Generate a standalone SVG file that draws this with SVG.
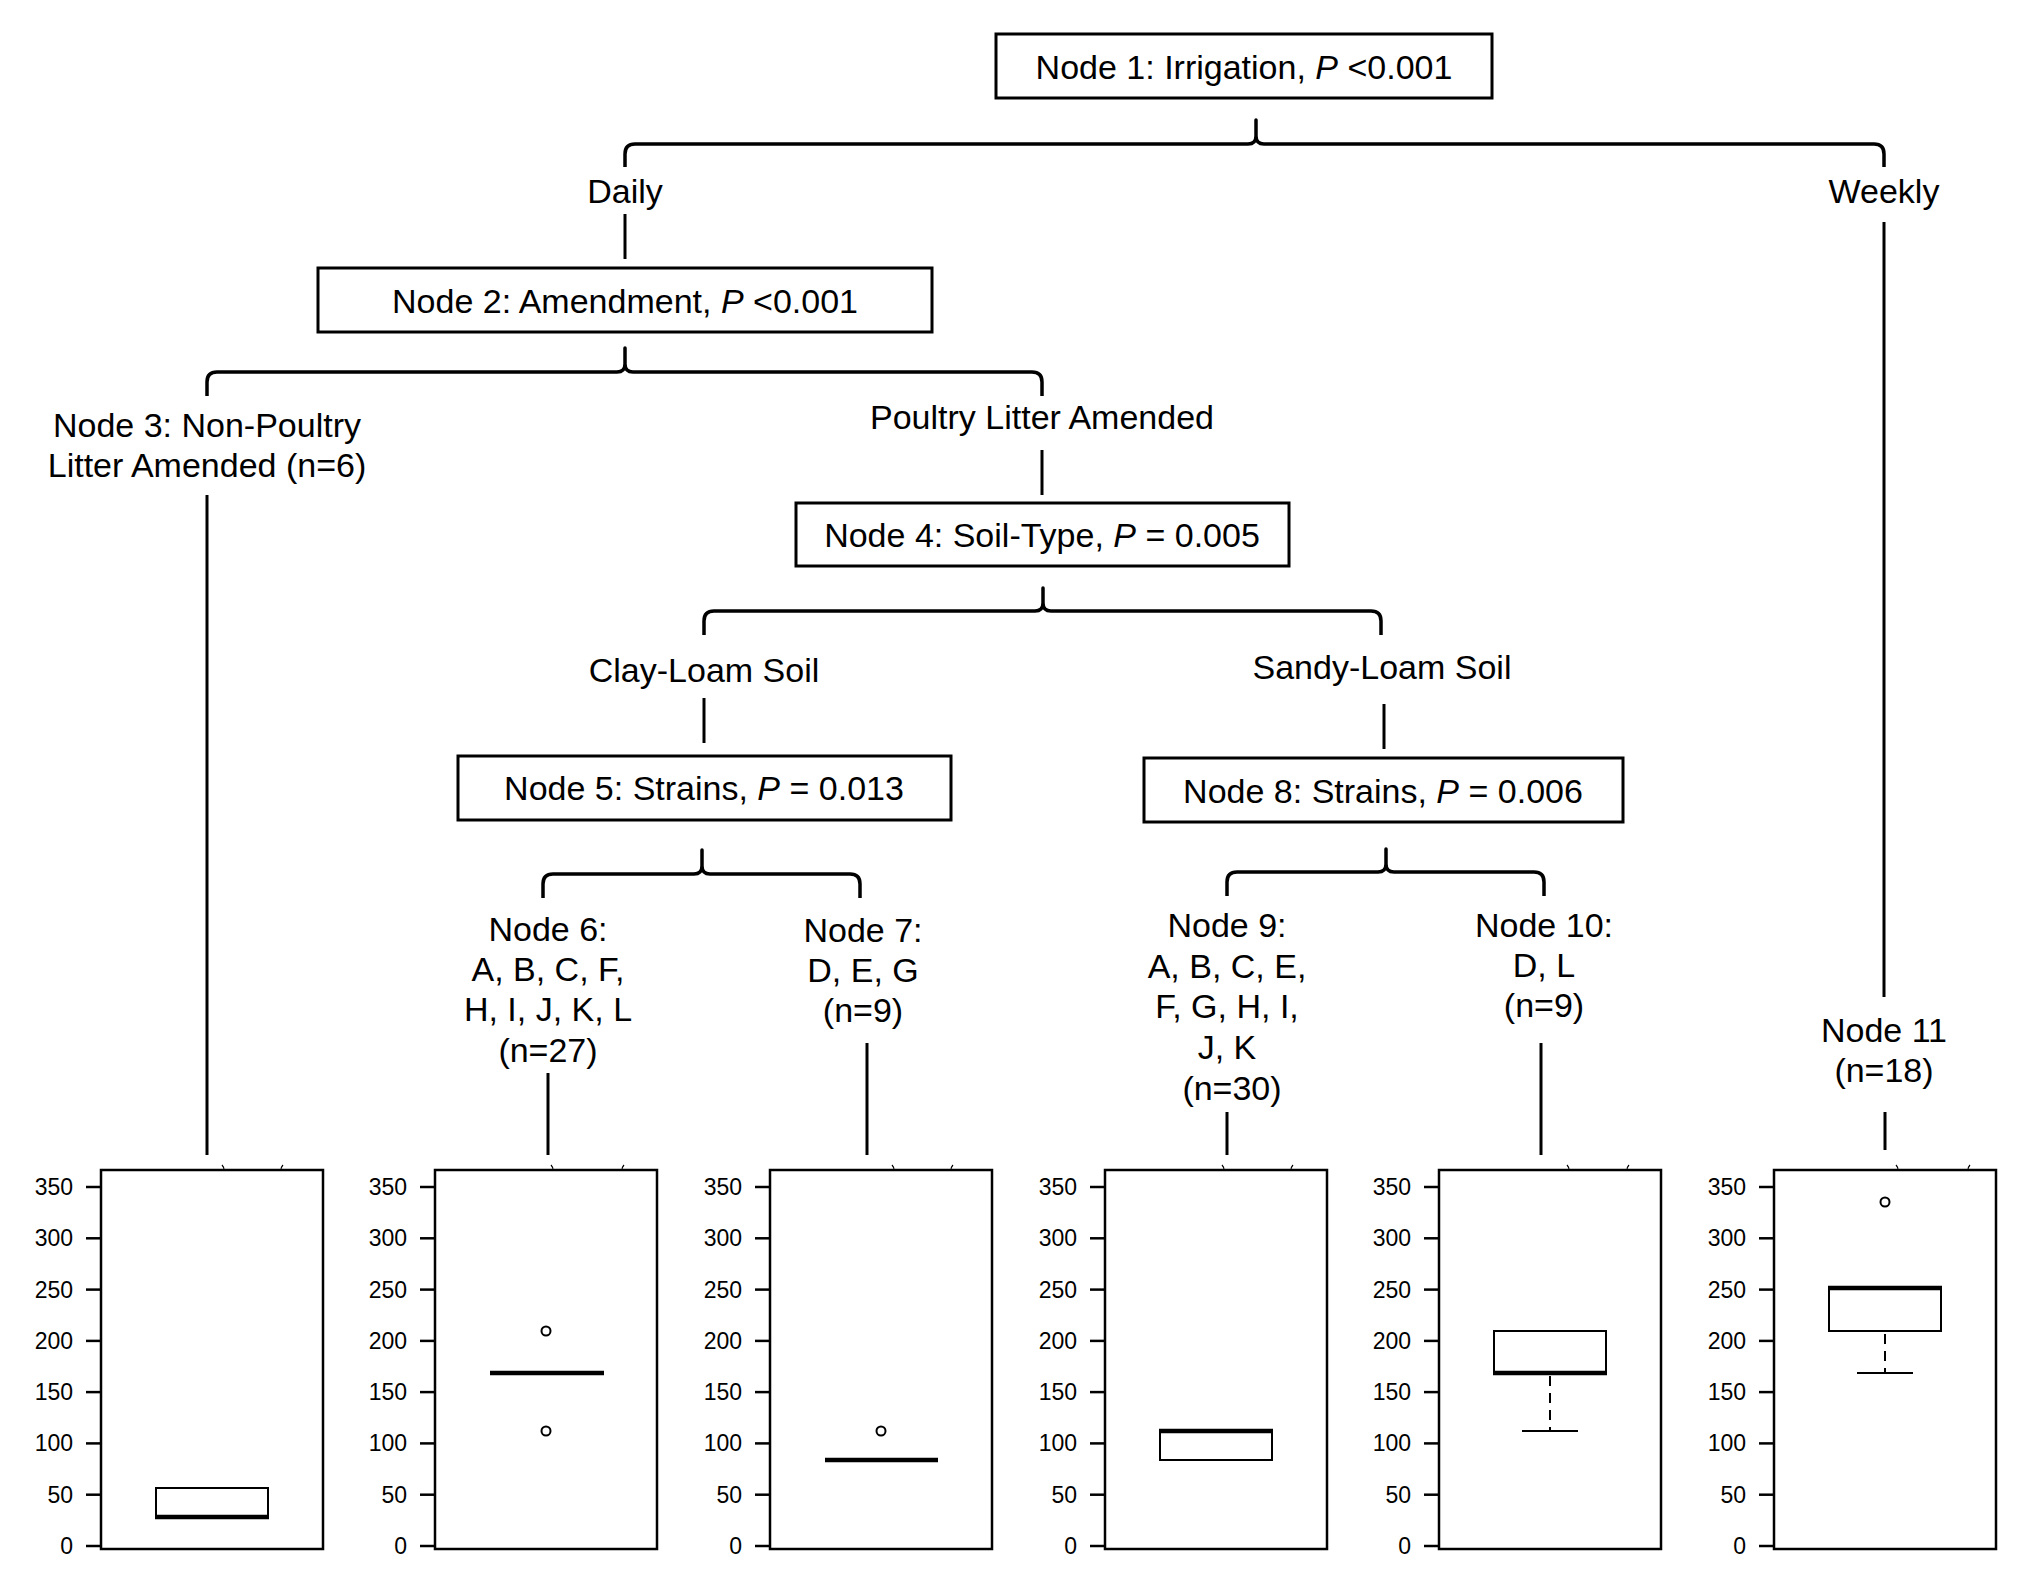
<svg xmlns="http://www.w3.org/2000/svg" width="2032" height="1589" viewBox="0 0 2032 1589">
<style>
text{font-family:"Liberation Sans",Arial,sans-serif;fill:#000}
.t{font-size:34px;text-anchor:middle}
.ax{font-size:23px;text-anchor:end}
.box{fill:#fff;stroke:#000;stroke-width:3}
.br{fill:none;stroke:#000;stroke-width:3.5;stroke-linejoin:round}
.ln{stroke:#000;stroke-width:3;fill:none}
.fr{fill:none;stroke:#000;stroke-width:2.5}
.tk{stroke:#000;stroke-width:2.5}
.bx{fill:none;stroke:#000;stroke-width:2}
.md{stroke:#000;stroke-width:4.5}
.wh{stroke:#000;stroke-width:2;stroke-dasharray:10,7}
.cap{stroke:#000;stroke-width:2}
.out{fill:none;stroke:#000;stroke-width:2}
.mk{fill:none;stroke:#000;stroke-width:1.2}
</style>
<rect width="2032" height="1589" fill="#fff"/>

<g id="connectors">
<path class="br" d="M625,167 L625,154 Q625,144 635,144 L1248,144 Q1256,144 1256,136 L1256,120 L1256,136 Q1256,144 1264,144 L1874,144 Q1884,144 1884,154 L1884,167"/>
<path class="br" d="M207,396 L207,382 Q207,372 217,372 L617,372 Q625,372 625,364 L625,348 L625,364 Q625,372 633,372 L1032,372 Q1042,372 1042,382 L1042,396"/>
<path class="br" d="M704,635 L704,621 Q704,611 714,611 L1035,611 Q1043,611 1043,603 L1043,588 L1043,603 Q1043,611 1051,611 L1371,611 Q1381,611 1381,621 L1381,635"/>
<path class="br" d="M543,898 L543,884 Q543,874 553,874 L694,874 Q702,874 702,866 L702,850 L702,866 Q702,874 710,874 L850,874 Q860,874 860,884 L860,898"/>
<path class="br" d="M1227,896 L1227,882 Q1227,872 1237,872 L1378,872 Q1386,872 1386,864 L1386,849 L1386,864 Q1386,872 1394,872 L1534,872 Q1544,872 1544,882 L1544,896"/>
<line class="ln" x1="625" y1="214" x2="625" y2="259"/>
<line class="ln" x1="1884" y1="222" x2="1884" y2="997"/>
<line class="ln" x1="1042" y1="450" x2="1042" y2="495"/>
<line class="ln" x1="207" y1="495" x2="207" y2="1155"/>
<line class="ln" x1="704" y1="698" x2="704" y2="743"/>
<line class="ln" x1="1384" y1="704" x2="1384" y2="749"/>
<line class="ln" x1="548" y1="1073" x2="548" y2="1155"/>
<line class="ln" x1="867" y1="1043" x2="867" y2="1155"/>
<line class="ln" x1="1227" y1="1112" x2="1227" y2="1155"/>
<line class="ln" x1="1541" y1="1043" x2="1541" y2="1155"/>
<line class="ln" x1="1885" y1="1112" x2="1885" y2="1150"/>
</g>

<g id="node1"><rect class="box" x="996" y="34" width="496" height="64"/><text class="t" x="1244" y="79">Node 1: Irrigation, <tspan font-style="italic">P</tspan> &lt;0.001</text></g>
<g id="label-daily"><text class="t" x="625" y="203">Daily</text></g>
<g id="label-weekly"><text class="t" x="1884" y="203">Weekly</text></g>
<g id="node2"><rect class="box" x="318" y="268" width="614" height="64"/><text class="t" x="625" y="313">Node 2: Amendment, <tspan font-style="italic">P</tspan> &lt;0.001</text></g>
<g id="node3"><text class="t" x="207" y="437">Node 3: Non-Poultry</text><text class="t" x="207" y="477">Litter Amended (n=6)</text></g>
<g id="label-poultry"><text class="t" x="1042" y="429">Poultry Litter Amended</text></g>
<g id="node4"><rect class="box" x="796" y="503" width="493" height="63"/><text class="t" x="1042" y="547">Node 4: Soil-Type, <tspan font-style="italic">P</tspan> = 0.005</text></g>
<g id="label-clay"><text class="t" x="704" y="682">Clay-Loam Soil</text></g>
<g id="label-sandy"><text class="t" x="1382" y="679">Sandy-Loam Soil</text></g>
<g id="node5"><rect class="box" x="458" y="756" width="493" height="64"/><text class="t" x="704" y="800">Node 5: Strains, <tspan font-style="italic">P</tspan> = 0.013</text></g>
<g id="node8"><rect class="box" x="1144" y="758" width="479" height="64"/><text class="t" x="1383" y="803">Node 8: Strains, <tspan font-style="italic">P</tspan> = 0.006</text></g>
<g id="node6"><text class="t" x="548" y="941">Node 6:</text><text class="t" x="548" y="981">A, B, C, F,</text><text class="t" x="548" y="1021">H, I, J, K, L</text><text class="t" x="548" y="1062">(n=27)</text></g>
<g id="node7"><text class="t" x="863" y="942">Node 7:</text><text class="t" x="863" y="982">D, E, G</text><text class="t" x="863" y="1022">(n=9)</text></g>
<g id="node9"><text class="t" x="1227" y="937">Node 9:</text><text class="t" x="1227" y="978">A, B, C, E,</text><text class="t" x="1227" y="1018">F, G, H, I,</text><text class="t" x="1227" y="1059">J, K</text><text class="t" x="1232" y="1100">(n=30)</text></g>
<g id="node10"><text class="t" x="1544" y="937">Node 10:</text><text class="t" x="1544" y="977">D, L</text><text class="t" x="1544" y="1017">(n=9)</text></g>
<g id="node11"><text class="t" x="1884" y="1042">Node 11</text><text class="t" x="1884" y="1082">(n=18)</text></g>

<defs>
<g id="axis">
<rect class="fr" x="0" y="1170" width="222" height="379"/>
<line class="tk" x1="-15" y1="1546" x2="0" y2="1546"/>
<line class="tk" x1="-15" y1="1494.7" x2="0" y2="1494.7"/>
<line class="tk" x1="-15" y1="1443.4" x2="0" y2="1443.4"/>
<line class="tk" x1="-15" y1="1392.1" x2="0" y2="1392.1"/>
<line class="tk" x1="-15" y1="1340.9" x2="0" y2="1340.9"/>
<line class="tk" x1="-15" y1="1289.6" x2="0" y2="1289.6"/>
<line class="tk" x1="-15" y1="1238.3" x2="0" y2="1238.3"/>
<line class="tk" x1="-15" y1="1187" x2="0" y2="1187"/>
<text class="ax" x="-28" y="1554">0</text>
<text class="ax" x="-28" y="1502.7">50</text>
<text class="ax" x="-28" y="1451.4">100</text>
<text class="ax" x="-28" y="1400.1">150</text>
<text class="ax" x="-28" y="1348.9">200</text>
<text class="ax" x="-28" y="1297.6">250</text>
<text class="ax" x="-28" y="1246.3">300</text>
<text class="ax" x="-28" y="1195">350</text>
</g>
</defs>

<g id="plot1">
<use href="#axis" x="101"/>
<path class="mk" d="M222,1165 Q224,1167 224,1170 M283,1165 Q281,1167 281,1170"/>
<rect class="bx" x="156" y="1488" width="112" height="29"/>
<line class="md" x1="155" y1="1517" x2="269" y2="1517"/>
</g>
<g id="plot2">
<use href="#axis" x="435"/>
<path class="mk" d="M551,1165 Q553,1167 553,1170 M624,1165 Q622,1167 622,1170"/>
<line class="md" x1="490" y1="1373" x2="604" y2="1373"/>
<circle class="out" cx="546" cy="1331" r="4.5"/>
<circle class="out" cx="546" cy="1431" r="4.5"/>
</g>
<g id="plot3">
<use href="#axis" x="770"/>
<path class="mk" d="M892,1165 Q894,1167 894,1170 M953,1165 Q951,1167 951,1170"/>
<line class="md" x1="825" y1="1460" x2="938" y2="1460"/>
<circle class="out" cx="881" cy="1431" r="4.5"/>
</g>
<g id="plot4">
<use href="#axis" x="1105"/>
<path class="mk" d="M1222,1165 Q1224,1167 1224,1170 M1293,1165 Q1291,1167 1291,1170"/>
<rect class="bx" x="1160" y="1431" width="112" height="29"/>
<line class="md" x1="1159" y1="1431" x2="1273" y2="1431"/>
</g>
<g id="plot5">
<use href="#axis" x="1439"/>
<path class="mk" d="M1567,1165 Q1569,1167 1569,1170 M1629,1165 Q1627,1167 1627,1170"/>
<rect class="bx" x="1494" y="1331" width="112" height="42"/>
<line class="md" x1="1493" y1="1373" x2="1607" y2="1373"/>
<line class="wh" x1="1550" y1="1376" x2="1550" y2="1431"/>
<line class="cap" x1="1522" y1="1431" x2="1578" y2="1431"/>
</g>
<g id="plot6">
<use href="#axis" x="1774"/>
<path class="mk" d="M1896,1165 Q1898,1167 1898,1170 M1970,1165 Q1968,1167 1968,1170"/>
<rect class="bx" x="1829" y="1288" width="112" height="43"/>
<line class="md" x1="1828" y1="1288" x2="1942" y2="1288"/>
<line class="wh" x1="1885" y1="1334" x2="1885" y2="1373"/>
<line class="cap" x1="1857" y1="1373" x2="1913" y2="1373"/>
<circle class="out" cx="1885" cy="1202" r="4.5"/>
</g>
</svg>
